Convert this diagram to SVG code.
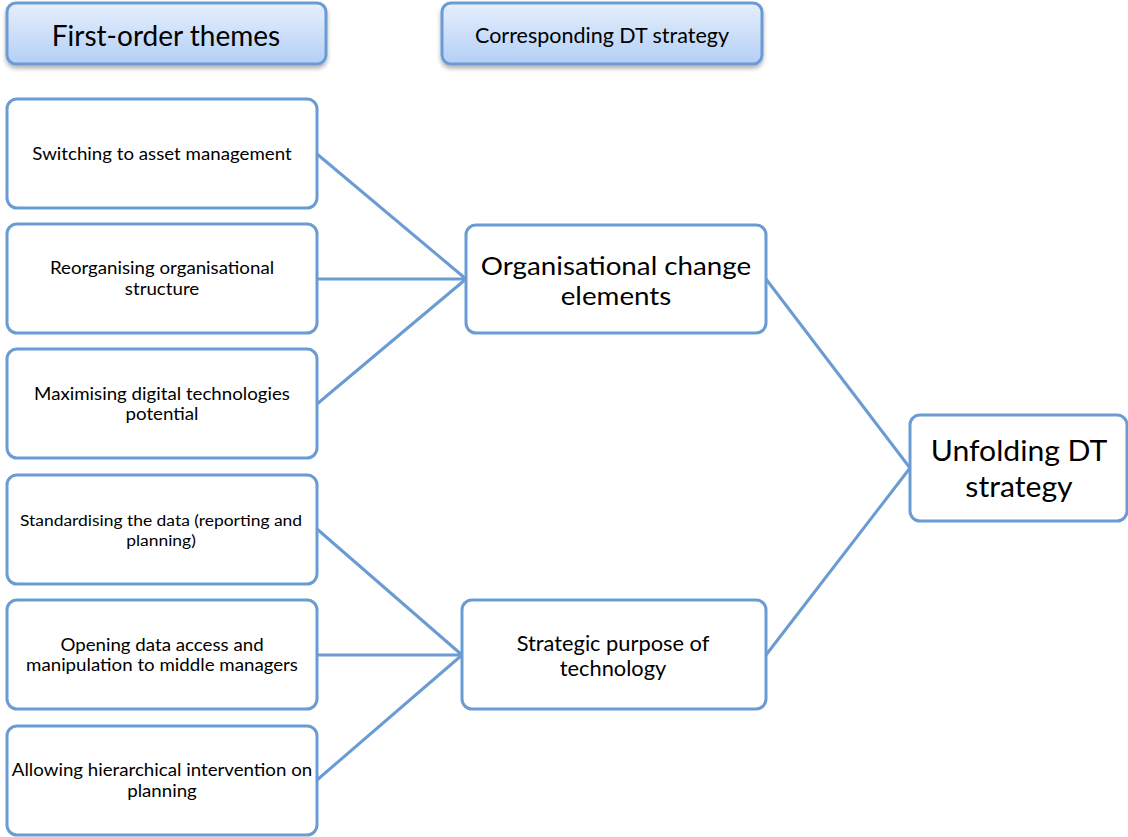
<svg xmlns="http://www.w3.org/2000/svg" width="1128" height="837" viewBox="0 0 1128 837">
<defs>
<linearGradient id="hg" x1="0" y1="0" x2="0" y2="1">
<stop offset="0" stop-color="#e6effc"/>
<stop offset="1" stop-color="#b3cff6"/>
</linearGradient>
<filter id="sh" x="-10%" y="-20%" width="120%" height="150%">
<feDropShadow dx="0" dy="3" stdDeviation="2" flood-color="#000" flood-opacity="0.3"/>
</filter>
<style>
.box{fill:#fff;stroke:#6a9bd3;stroke-width:3}
.hdr{fill:url(#hg);stroke:#6a9bd3;stroke-width:3;filter:url(#sh)}
.ln{stroke:#6a9bd3;stroke-width:3;fill:none}
text{font-family:Lato,"Noto Sans",sans-serif;fill:#000;text-anchor:middle}
.s{font-size:17px}
</style>
</defs>
<g id="connectors">
<line class="ln" x1="317" y1="154" x2="466" y2="279"/>
<line class="ln" x1="317" y1="279" x2="466" y2="279"/>
<line class="ln" x1="317" y1="404" x2="466" y2="279"/>
<line class="ln" x1="317" y1="529" x2="462" y2="655"/>
<line class="ln" x1="317" y1="655" x2="462" y2="655"/>
<line class="ln" x1="317" y1="780" x2="462" y2="655"/>
<line class="ln" x1="766" y1="279" x2="910" y2="468"/>
<line class="ln" x1="766" y1="655" x2="910" y2="468"/>
</g>
<g id="header1">
<rect class="hdr" x="7" y="3" width="319" height="61" rx="9"/>
<text x="166" y="46" style="font-size:28px">First-order themes</text>
</g>
<g id="header2">
<rect class="hdr" x="442" y="3" width="320" height="61" rx="9"/>
<text x="602" y="43" style="font-size:21.5px">Corresponding DT strategy</text>
</g>
<g id="n1">
<rect class="box" x="7" y="99" width="310" height="109" rx="10"/>
<g transform="translate(162 0) scale(1.1 1)">
<text class="s" x="0" y="160">Switching to asset management</text>
</g>
</g>
<g id="n2">
<rect class="box" x="7" y="224" width="310" height="109" rx="10"/>
<g transform="translate(162 0) scale(1.1 1)">
<text class="s" x="0" y="274">Reorganising organisational</text>
<text class="s" x="0" y="295">structure</text>
</g>
</g>
<g id="n3">
<rect class="box" x="7" y="349" width="310" height="109" rx="10"/>
<g transform="translate(162 0) scale(1.1 1)">
<text class="s" x="0" y="400">Maximising digital technologies</text>
<text class="s" x="0" y="420">potential</text>
</g>
</g>
<g id="n4">
<rect class="box" x="7" y="475" width="310" height="109" rx="10"/>
<g transform="translate(161 0) scale(1.09 1)">
<text x="0" y="526" style="font-size:16px">Standardising the data (reporting and</text>
<text x="0" y="546" style="font-size:16px">planning)</text>
</g>
</g>
<g id="n5">
<rect class="box" x="7" y="600" width="310" height="109" rx="10"/>
<g transform="translate(162 0) scale(1.1 1)">
<text class="s" x="0" y="651">Opening data access and</text>
<text class="s" x="0" y="671">manipulation to middle managers</text>
</g>
</g>
<g id="n6">
<rect class="box" x="7" y="726" width="310" height="109" rx="10"/>
<g transform="translate(162 0) scale(1.1 1)">
<text class="s" x="0" y="776">Allowing hierarchical intervention on</text>
<text class="s" x="0" y="797">planning</text>
</g>
</g>
<g id="m1">
<rect class="box" x="466" y="225" width="300" height="108" rx="10"/>
<g transform="translate(616 0) scale(1.11 1)">
<text x="0" y="275" style="font-size:25px">Organisational change</text>
<text x="0" y="305" style="font-size:25px">elements</text>
</g>
</g>
<g id="m2">
<rect class="box" x="462" y="600" width="304" height="109" rx="10"/>
<g transform="translate(613 0) scale(1.065 1)">
<text x="0" y="651" style="font-size:20.5px">Strategic purpose of</text>
<text x="0" y="676" style="font-size:20.5px">technology</text>
</g>
</g>
<g id="r1">
<rect class="box" x="910" y="415" width="217" height="106" rx="10"/>
<g transform="translate(1019 0) scale(1.04 1)">
<text x="0" y="461" style="font-size:29px">Unfolding DT</text>
<text x="0" y="497" style="font-size:29px">strategy</text>
</g>
</g>
</svg>
